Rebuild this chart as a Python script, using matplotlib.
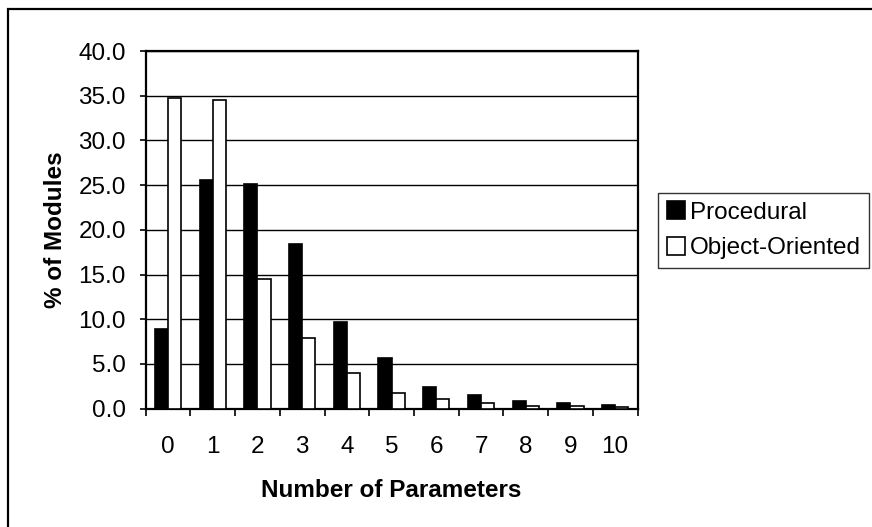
import matplotlib
matplotlib.use("Agg")
import matplotlib.pyplot as plt
from matplotlib.patches import Rectangle
import numpy as np

plt.rcParams['font.family'] = ['Liberation Sans', 'DejaVu Sans']

# Data: share of modules by number of parameters
params = ["0", "1", "2", "3", "4", "5", "6", "7", "8", "9", "10"]
procedural = [8.9, 25.6, 25.1, 18.4, 9.7, 5.7, 2.4, 1.5, 0.8, 0.6, 0.4]
object_oriented = [34.7, 34.5, 14.5, 7.9, 4.0, 1.7, 1.1, 0.6, 0.3, 0.3, 0.15]
y_ticks = [0, 5, 10, 15, 20, 25, 30, 35, 40]

FS = 17.5
W, H = 872, 527
fig = plt.figure(figsize=(W / 100, H / 100), dpi=100)
ax = fig.add_axes([145.7 / W, 1 - 408.6 / H, (637.5 - 145.7) / W, (408.6 - 51) / H])

x = np.arange(len(params))
bw = 0.295
b1 = ax.bar(x - bw / 2, procedural, bw, color="black", edgecolor="black",
            linewidth=1.2, label="Procedural", zorder=3)
b2 = ax.bar(x + bw / 2, object_oriented, bw, color="white", edgecolor="black",
            linewidth=1.2, label="Object-Oriented", zorder=3)

ax.set_xlim(-0.5, len(params) - 0.5)
ax.set_ylim(0, 40)
ax.set_yticks(y_ticks)
ax.set_yticklabels([f"{v:.1f}" for v in y_ticks], fontsize=FS)
ax.yaxis.grid(True, color="black", linewidth=1.0, zorder=0)
ax.set_axisbelow(True)

# category labels at centres, tick marks between categories
ax.set_xticks(x)
ax.set_xticklabels(params, fontsize=FS)
ax.tick_params(axis="x", which="major", length=0, pad=20)
ax.set_xticks(np.arange(-0.5, len(params) + 0.5, 1), minor=True)
ax.tick_params(axis="x", which="minor", length=4.8, width=1.2, direction="out")
ax.tick_params(axis="y", length=4.3, width=1.2, direction="out", pad=10)

for s in ax.spines.values():
    s.set_linewidth(1.6)
    s.set_color("black")

ax.set_xlabel("Number of Parameters", fontsize=FS, fontweight="bold", labelpad=15)
ax.set_ylabel("% of Modules", fontsize=FS, fontweight="bold", labelpad=8)

leg = ax.legend(handles=[b1, b2], loc="upper left",
                bbox_to_anchor=(658 / W, 1 - 192.7 / H), bbox_transform=fig.transFigure,
                borderaxespad=0, fontsize=FS, frameon=True, fancybox=False,
                edgecolor="black", handlelength=0.75, handleheight=0.75,
                handletextpad=0.2, borderpad=0.35, labelspacing=0.55)
leg.get_frame().set_linewidth(1.0)

# outer chart border
fig.patches.append(Rectangle((8.3 / W, -0.05), 1.1, 1 - 9.3 / H + 0.05,
                             transform=fig.transFigure, fill=False,
                             edgecolor="black", linewidth=1.6))

fig.savefig("out.png", dpi=100)
